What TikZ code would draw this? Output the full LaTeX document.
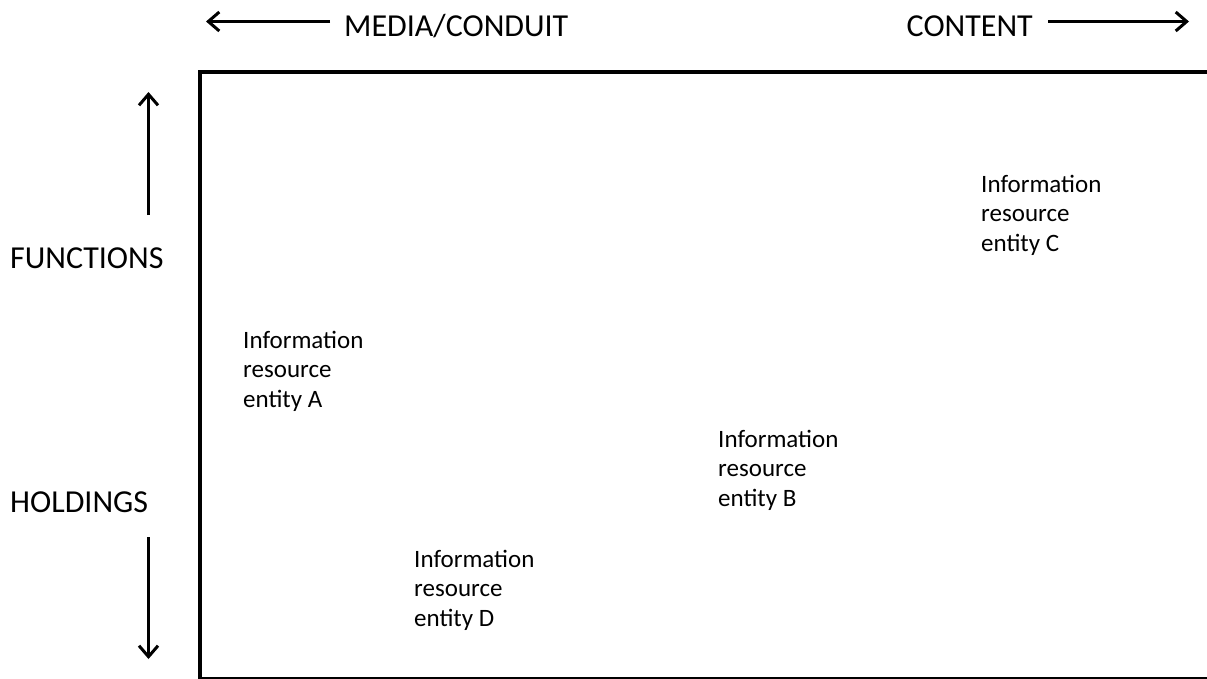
\documentclass[tikz,border=0pt]{standalone}
\usepackage{fontspec}
\setmainfont{Carlito}
\usetikzlibrary{arrows.meta}

\tikzset{
  axislabel/.style={anchor=base west, inner sep=0pt, font=\fontsize{32}{38}\selectfont},
  % multi-line nodes: the base anchor sits on the last line
  entity/.style={anchor=base west, inner sep=0pt, align=left,
                 font=\fontsize{25}{29.5}\selectfont},
  axisarrow/.style={line width=3pt, -{Straight Barb[length=11pt,width=19pt]}},
  frameline/.style={line width=3.6pt}
}

\begin{document}
\begin{tikzpicture}[x=1pt, y=-1pt]
  \useasboundingbox (0,0) rectangle (1207,678);

  % plotting frame (right and bottom edges run off the page)
  \draw[frameline] (200,72) rectangle (1210,679);

  % horizontal axis
  \node[axislabel] (media) at (344,36) {MEDIA/CONDUIT};
  \node[axislabel, anchor=base east] (content) at (1033,36) {CONTENT};
  \coordinate (mediaTail) at (330,21.5);
  \coordinate (mediaTip) at (206,21.5);
  \coordinate (contentTail) at (1048,21.5);
  \coordinate (contentTip) at (1189,21.5);
  \draw[axisarrow] (mediaTail) -- (mediaTip);
  \draw[axisarrow] (contentTail) -- (contentTip);

  % vertical axis
  \node[axislabel] (functions) at (10,268) {FUNCTIONS};
  \node[axislabel] (holdings) at (10,512.5) {HOLDINGS};
  \coordinate (upTail) at (148.5,215);
  \coordinate (upTip) at (148.5,92);
  \coordinate (downTail) at (148.5,537);
  \coordinate (downTip) at (148.5,659);
  \draw[axisarrow] (upTail) -- (upTip);
  \draw[axisarrow] (downTail) -- (downTip);

  % information resource entities
  \node[entity] (entA) at (243,407) {Information\\resource\\entity A};
  \node[entity] (entB) at (718,506) {Information\\resource\\entity B};
  \node[entity] (entC) at (981,251) {Information\\resource\\entity C};
  \node[entity] (entD) at (414,626) {Information\\resource\\entity D};
\end{tikzpicture}
\end{document}
